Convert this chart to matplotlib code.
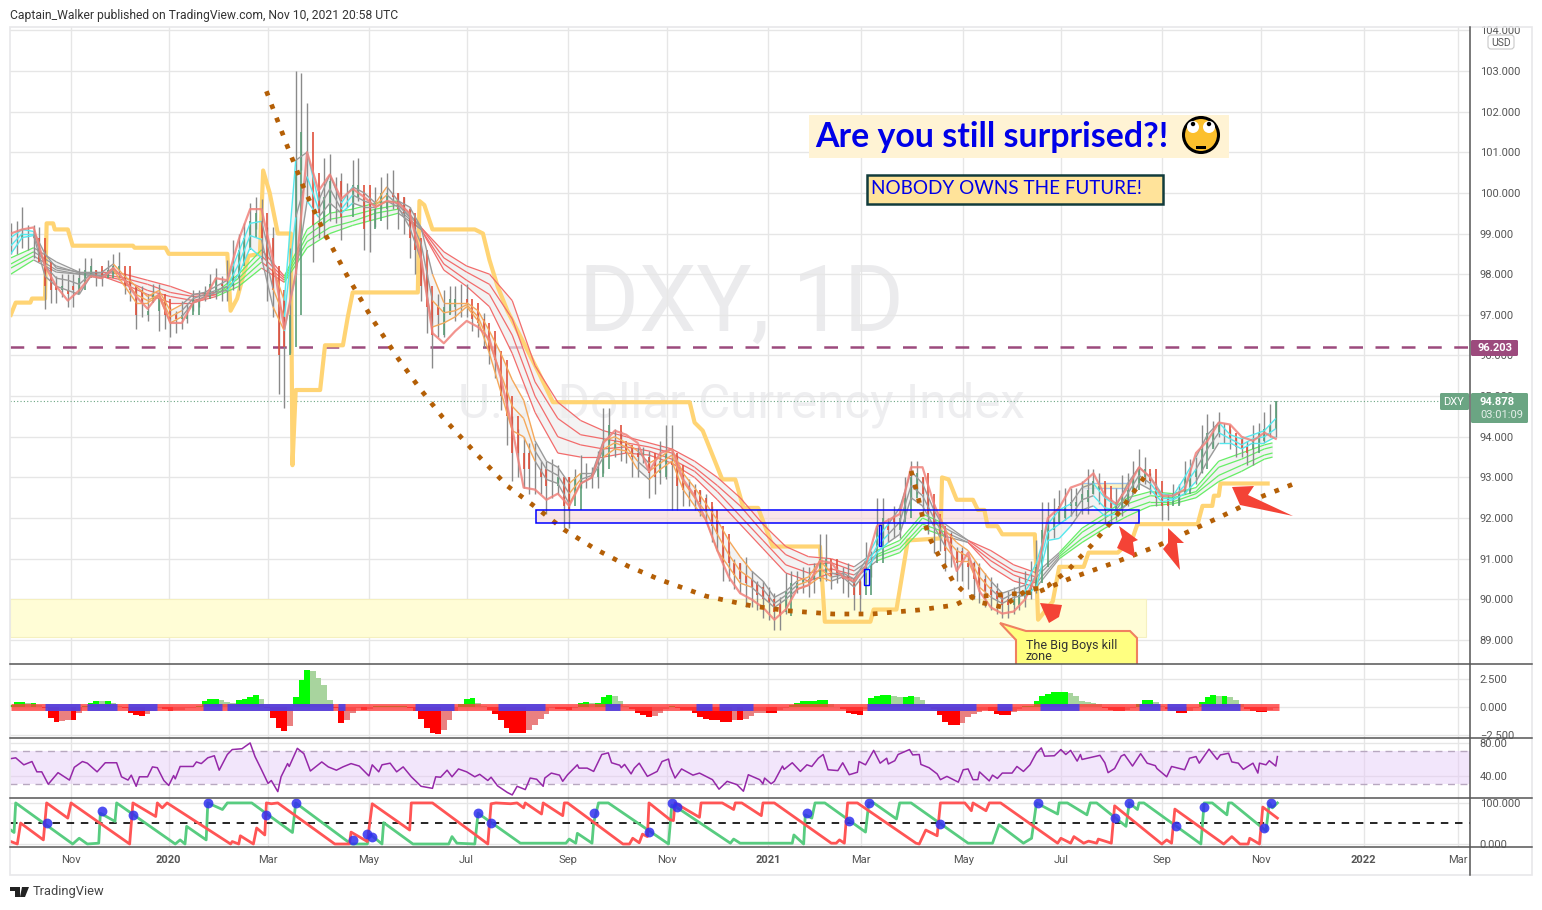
import numpy as np
import matplotlib
matplotlib.use("Agg")
import matplotlib.pyplot as plt
from matplotlib.collections import LineCollection
from matplotlib.patches import Circle, Polygon, Rectangle, FancyBboxPatch
from matplotlib.transforms import Affine2D

W, H = 1542, 910

# x axis is days since 1 Nov 2019, weekly samples start 37 days before
week_days = np.arange(112) * 7 - 37
mid_days = week_days[:-1] + 3.5
half_days = np.arange(223) * 3.5 - 37
slow_days = np.append(np.arange(56) * 14 - 37, 738)

tick_days = [0, 60, 121, 183, 243, 305, 366, 428, 485, 548, 608, 670, 731, 794, 852]
tick_names = ["Nov", "2020", "Mar", "May", "Jul", "Sep", "Nov", "2021", "Mar", "May", "Jul", "Sep", "Nov", "2022", "Mar"]

# price sticks, one set on week_days
high = [99.25, 99.65, 99.2, 98.6, 97.95, 98.0, 98.15, 98.4, 98.1, 98.5,
        98.0, 97.7, 97.5, 97.75, 97.2, 97.35, 97.6, 97.7, 98.15, 98.35,
        99.0, 99.75, 99.85, 99.15, 97.5, 103.0, 102.2, 100.05, 100.95, 100.5,
        100.8, 99.8, 100.15, 100.5, 100.0, 99.65, 98.35, 97.35, 97.6, 97.7,
        97.75, 97.05, 96.45, 95.45, 94.5, 94.0, 93.85, 93.4, 93.3, 93.0,
        93.55, 93.25, 94.7, 94.2, 93.85, 93.75, 93.65, 93.9, 94.3, 93.1,
        92.85, 92.6, 91.95, 91.2, 90.9, 90.7, 90.45, 90.15, 90.65, 90.7,
        90.8, 91.6, 90.8, 90.8, 90.55, 91.4, 92.5, 92.0, 92.35, 93.4,
        93.0, 92.35, 91.7, 91.3, 91.05, 90.9, 90.55, 90.15, 90.3, 90.7,
        91.45, 92.4, 92.7, 92.75, 92.9, 93.2, 92.85, 92.75, 93.1, 93.7,
        93.1, 92.6, 92.85, 93.4, 93.5, 94.55, 94.6, 94.2, 94.0, 94.3,
        94.6, 94.88]
low = [98.5, 98.65, 98.4, 97.15, 97.3, 97.2, 97.6, 98.0, 97.7, 98.0,
       97.5, 96.65, 96.85, 96.6, 96.45, 96.65, 97.1, 97.35, 97.4, 97.35,
       97.6, 98.65, 98.35, 96.95, 94.7, 98.0, 99.8, 98.9, 99.3, 98.85,
       99.65, 98.6, 99.15, 99.1, 99.1, 98.4, 97.35, 95.7, 96.45, 96.85,
       96.95, 96.45, 95.8, 94.65, 92.9, 92.75, 92.6, 92.1, 92.6, 91.75,
       92.75, 92.75, 93.1, 93.5, 93.35, 93.0, 92.5, 92.85, 92.2, 92.3,
       92.2, 91.95, 91.2, 90.45, 90.15, 89.8, 89.55, 89.25, 89.65, 90.15,
       90.05, 90.45, 90.25, 90.15, 89.75, 90.4, 91.3, 91.4, 91.5, 92.45,
       92.1, 91.15, 90.7, 90.45, 90.25, 89.9, 89.75, 89.55, 89.65, 89.8,
       90.15, 91.5, 91.85, 92.05, 92.1, 92.6, 91.85, 91.95, 92.3, 92.85,
       92.6, 91.95, 92.45, 92.6, 92.85, 93.7, 94.0, 93.7, 93.5, 93.3,
       93.85, 94.0]
close = [98.9, 99.0, 98.9, 97.7, 97.6, 97.5, 97.9, 98.2, 97.9, 98.2,
         97.7, 97.0, 97.1, 97.4, 96.9, 97.0, 97.4, 97.55, 97.9, 97.9,
         98.6, 99.3, 98.9, 97.6, 96.2, 100.5, 100.5, 99.5, 100.3, 99.4,
         100.2, 99.1, 99.6, 100.0, 99.6, 98.9, 97.7, 96.5, 97.2, 97.4,
         97.3, 96.8, 96.1, 95.0, 93.6, 93.2, 93.2, 92.8, 93.0, 92.2,
         93.1, 93.0, 93.7, 93.9, 93.6, 93.5, 93.1, 93.4, 93.3, 92.7,
         92.5, 92.2, 91.6, 90.9, 90.5, 90.3, 90.0, 89.7, 90.2, 90.4,
         90.5, 91.0, 90.55, 90.5, 90.1, 90.9, 91.8, 91.7, 92.0, 93.0,
         92.6, 91.8, 91.2, 90.9, 90.8, 90.3, 90.1, 89.85, 90.0, 90.2,
         90.8, 91.9, 92.3, 92.4, 92.6, 92.9, 92.2, 92.4, 92.7, 93.2,
         92.9, 92.3, 92.6, 93.0, 93.2, 94.1, 94.3, 93.95, 93.7, 93.9,
         94.2, 94.88]

# second set of sticks, on mid_days
high2 = [99.3, 99.2, 99.15, 97.95, 98.0, 98.0, 98.4, 98.1, 98.35, 98.55,
         97.85, 97.7, 97.75, 97.35, 97.1, 97.3, 97.6, 98.0, 97.95, 98.85,
         99.25, 99.9, 99.15, 97.1, 98.65, 102.95, 100.0, 100.85, 100.4, 100.25,
         100.85, 99.8, 100.4, 100.55, 99.9, 99.15, 98.0, 97.5, 97.7, 97.75,
         97.1, 97.05, 96.3, 95.1, 94.2, 93.85, 93.4, 93.45, 93.0, 93.2,
         93.35, 93.65, 94.7, 94.15, 93.75, 93.75, 93.4, 94.3, 93.5, 92.95,
         92.7, 92.3, 91.3, 91.0, 91.05, 90.45, 90.3, 90.05, 90.7, 90.8,
         90.9, 91.6, 90.8, 90.9, 90.45, 91.2, 92.5, 92.3, 93.0, 93.4,
         92.6, 92.0, 91.65, 91.3, 90.95, 90.65, 90.4, 90.2, 90.55, 90.95,
         92.4, 92.5, 92.75, 92.75, 93.2, 93.1, 92.5, 93.05, 93.4, 93.5,
         92.85, 92.6, 92.85, 93.45, 94.3, 94.4, 94.35, 94.0, 93.9, 94.35,
         94.8]
low2 = [98.5, 98.6, 98.35, 97.3, 97.45, 97.2, 97.85, 97.7, 97.95, 97.85,
        97.35, 96.95, 97.35, 96.65, 96.55, 96.8, 97.2, 97.5, 97.35, 97.6,
        98.35, 99.1, 97.35, 95.05, 96.05, 100.55, 98.3, 98.9, 99.25, 99.65,
        99.8, 98.55, 99.6, 99.6, 99.0, 98.0, 96.55, 96.45, 97.05, 96.95,
        96.6, 96.2, 95.45, 93.8, 93.0, 92.6, 92.6, 92.5, 91.75, 92.7,
        92.75, 92.75, 93.85, 93.4, 93.0, 93.35, 92.6, 92.95, 92.2, 92.3,
        92.05, 91.4, 90.45, 90.25, 89.8, 89.75, 89.5, 89.25, 90.05, 90.15,
        90.15, 90.45, 90.4, 90.05, 89.65, 90.55, 91.5, 91.5, 92.0, 92.6,
        91.6, 91.2, 90.8, 90.45, 90.0, 89.8, 89.65, 89.55, 89.75, 90.0,
        91.3, 91.5, 91.95, 92.05, 92.1, 92.35, 91.85, 92.05, 92.6, 92.85,
        92.3, 91.95, 92.35, 92.7, 93.1, 93.75, 93.85, 93.5, 93.3, 93.85,
        94.0]
close2 = [98.9, 98.9, 98.3, 97.6, 97.7, 97.6, 98.1, 97.9, 98.1, 98.2,
          97.6, 97.3, 97.5, 97.0, 96.9, 97.0, 97.4, 97.75, 97.7, 98.2,
          98.9, 99.5, 98.2, 96.0, 97.0, 101.5, 99.2, 99.9, 99.9, 99.9,
          100.2, 99.3, 100.0, 99.9, 99.5, 98.6, 97.2, 97.0, 97.4, 97.4,
          96.9, 96.6, 95.9, 94.5, 93.6, 93.2, 93.0, 93.0, 92.3, 93.0,
          93.0, 93.2, 94.3, 93.8, 93.5, 93.6, 93.0, 93.6, 92.8, 92.7,
          92.4, 91.8, 90.9, 90.6, 90.4, 90.1, 89.9, 89.6, 90.4, 90.5,
          90.6, 91.0, 90.6, 90.5, 90.1, 90.9, 92.0, 91.9, 92.5, 93.1,
          92.1, 91.6, 91.2, 90.9, 90.5, 90.2, 90.0, 89.85, 90.1, 90.4,
          91.7, 92.0, 92.3, 92.4, 92.7, 92.8, 92.2, 92.6, 93.0, 93.2,
          92.5, 92.3, 92.6, 93.1, 93.7, 94.1, 94.1, 93.75, 93.6, 94.1,
          94.3]

# fast ribbon edges and middle, state c=up o=down g=flat
fast_top = [98.9, 99.1, 99.05, 98.5, 98.15, 98.1, 98.05, 98.05, 98.05, 98.25,
            97.95, 97.7, 97.45, 97.6, 97.1, 97.25, 97.5, 97.55, 97.7, 97.85,
            98.55, 99.25, 99.3, 98.15, 97.35, 100.8, 101.0, 99.8, 100.45, 99.75,
            100.15, 100.0, 99.75, 100.15, 99.8, 99.65, 99.15, 98.0, 97.3, 97.3,
            97.3, 97.1, 96.6, 96.05, 95.4, 94.9, 93.9, 93.4, 93.25, 92.85,
            93.1, 93.1, 93.9, 94.0, 93.85, 93.65, 93.35, 93.5, 93.7, 93.1,
            92.75, 92.35, 91.95, 91.45, 91.05, 90.7, 90.45, 90.05, 90.2, 90.45,
            90.55, 90.95, 90.65, 90.65, 90.5, 90.95, 91.5, 91.85, 92.25, 93.15,
            92.85, 92.2, 91.7, 91.4, 91.2, 90.8, 90.45, 90.15, 90.25, 90.35,
            90.9, 91.85, 92.2, 92.35, 92.75, 92.85, 92.5, 92.3, 92.85, 93.25,
            93.0, 92.6, 92.55, 93.0, 93.5, 94.05, 94.35, 94.05, 93.95, 94.05,
            94.15, 94.45]
fast_mid = [98.7, 99.0, 99.0, 98.2, 97.9, 97.85, 97.75, 98.0, 97.95, 98.15,
            97.85, 97.5, 97.35, 97.5, 96.95, 97.1, 97.4, 97.5, 97.6, 97.7,
            98.25, 98.95, 98.85, 97.65, 96.95, 99.4, 100.4, 99.6, 100.1, 99.6,
            99.95, 99.8, 99.7, 99.95, 99.7, 99.4, 98.75, 97.35, 97.05, 97.1,
            97.25, 96.95, 96.3, 95.55, 94.75, 94.45, 93.65, 93.2, 93.05, 92.6,
            92.95, 93.05, 93.7, 93.85, 93.75, 93.4, 93.15, 93.35, 93.55, 92.9,
            92.5, 92.15, 91.6, 91.1, 90.7, 90.5, 90.25, 89.9, 90.1, 90.35,
            90.45, 90.75, 90.55, 90.6, 90.4, 90.8, 91.3, 91.6, 91.9, 92.8,
            92.55, 92.0, 91.5, 91.2, 91.05, 90.55, 90.25, 90.0, 90.15, 90.2,
            90.6, 91.65, 91.85, 92.05, 92.45, 92.55, 92.25, 92.2, 92.6, 93.05,
            92.85, 92.5, 92.5, 92.8, 93.2, 93.7, 94.1, 93.95, 93.8, 93.95,
            94.0, 94.2]
fast_bot = [98.5, 98.9, 98.95, 97.95, 97.7, 97.6, 97.5, 97.95, 97.9, 98.1,
            97.7, 97.3, 97.3, 97.45, 96.8, 96.95, 97.3, 97.45, 97.55, 97.6,
            98.0, 98.65, 98.4, 97.2, 96.6, 98.0, 99.8, 99.4, 99.75, 99.5,
            99.75, 99.65, 99.65, 99.8, 99.65, 99.15, 98.35, 96.7, 96.8, 96.95,
            97.2, 96.85, 96.05, 95.1, 94.15, 94.0, 93.4, 92.95, 92.85, 92.35,
            92.85, 93.0, 93.5, 93.7, 93.65, 93.2, 92.95, 93.2, 93.4, 92.7,
            92.3, 91.95, 91.2, 90.8, 90.4, 90.3, 90.05, 89.8, 90.0, 90.25,
            90.35, 90.55, 90.45, 90.55, 90.3, 90.65, 91.15, 91.4, 91.6, 92.5,
            92.3, 91.8, 91.3, 90.95, 90.95, 90.3, 90.05, 89.9, 90.05, 90.1,
            90.3, 91.45, 91.5, 91.8, 92.2, 92.3, 92.05, 92.1, 92.35, 92.85,
            92.7, 92.4, 92.45, 92.6, 92.9, 93.4, 93.85, 93.85, 93.7, 93.85,
            93.85, 94.0]
fast_state = ("cccggggggg" "oooooogggg" "cccgocgcgg" "cggoggg" "gooooooooo"
              "gggoggooog" "ooooooooogg" "ggoooggg" "cc" "gggggoooog"
              "ggccccggcc" "gggccccggc" "cc")

# thick reversal line over the price
swing = [99.0, 99.1, 99.15, 98.2, 97.7, 97.35, 97.6, 97.95, 97.9, 98.15,
         97.85, 97.45, 97.15, 97.5, 96.8, 96.8, 97.3, 97.4, 97.9, 97.85,
         98.85, 99.6, 99.6, 98.35, 96.65, 98.0, 101.0, 100.05, 100.45, 99.85,
         100.1, 99.9, 99.65, 99.8, 99.75, 99.5, 98.4, 96.55, 96.3, 96.6,
         96.85, 96.7, 96.4, 95.45, 94.2, 92.75, 92.7, 92.45, 92.6, 92.3,
         92.85, 93.0, 93.85, 94.15, 94.05, 93.85, 93.15, 93.6, 93.7, 92.95,
         92.55, 91.95, 91.2, 90.55, 90.15, 90.0, 89.8, 89.5, 89.75, 90.25,
         90.35, 90.95, 90.9, 90.55, 90.45, 90.8, 91.8, 91.95, 92.1, 93.25,
         93.25, 92.35, 91.7, 90.7, 91.15, 90.2, 89.8, 89.65, 89.7, 90.0,
         90.6, 92.0, 92.25, 92.75, 92.85, 93.1, 92.55, 92.35, 92.75, 93.25,
         93.0, 92.55, 92.55, 92.7, 93.6, 93.9, 94.35, 94.3, 94.0, 93.9,
         94.1, 93.95]

# slow ribbon, four of its lines read every two weeks
slow_a = [98.4, 98.65, 98.3, 98.05, 98.05, 98.0, 97.85, 97.7, 97.5, 97.55,
          98.0, 98.6, 97.95, 99.1, 99.5, 99.6, 99.75, 99.8, 99.15, 98.55,
          98.2, 98.0, 97.35, 95.75, 94.85, 94.4, 94.15, 94.0, 93.85, 93.7,
          93.4, 93.0, 92.5, 91.85, 91.3, 91.05, 91.0, 90.8, 91.2, 91.45,
          92.1, 91.85, 91.45, 91.2, 90.85, 90.65, 91.15, 91.75, 92.1, 92.5,
          92.65, 92.6, 92.75, 93.4, 93.6, 93.8, 93.85]
slow_b = [98.25, 98.55, 98.2, 98.03, 98.0, 97.9, 97.75, 97.55, 97.45, 97.5,
          97.9, 98.45, 97.9, 98.95, 99.35, 99.45, 99.6, 99.7, 99.15, 98.4,
          98.05, 97.75, 96.9, 95.35, 94.45, 94.05, 93.95, 93.85, 93.75, 93.6,
          93.25, 92.8, 92.3, 91.65, 91.1, 90.85, 90.9, 90.7, 91.1, 91.35,
          92.0, 91.75, 91.45, 91.05, 90.7, 90.55, 91.1, 91.65, 92.0, 92.35,
          92.55, 92.5, 92.65, 93.25, 93.45, 93.7, 93.75]
slow_c = [98.15, 98.45, 98.1, 98.0, 97.95, 97.85, 97.6, 97.45, 97.35, 97.5,
          97.8, 98.3, 97.85, 98.8, 99.15, 99.3, 99.5, 99.6, 99.1, 98.25,
          97.85, 97.5, 96.5, 95.0, 94.0, 93.8, 93.7, 93.75, 93.65, 93.45,
          93.15, 92.65, 92.05, 91.45, 90.85, 90.65, 90.75, 90.6, 91.05, 91.25,
          91.85, 91.65, 91.4, 90.95, 90.6, 90.4, 91.05, 91.5, 91.85, 92.2,
          92.4, 92.4, 92.6, 93.05, 93.3, 93.55, 93.6]
slow_d = [98.0, 98.35, 98.05, 98.0, 97.95, 97.75, 97.5, 97.3, 97.3, 97.45,
          97.7, 98.15, 97.8, 98.65, 99.0, 99.2, 99.35, 99.5, 99.1, 98.1,
          97.7, 97.2, 96.05, 94.6, 93.6, 93.5, 93.5, 93.6, 93.55, 93.35,
          93.0, 92.45, 91.85, 91.25, 90.65, 90.45, 90.65, 90.5, 90.95, 91.15,
          91.75, 91.55, 91.4, 90.8, 90.45, 90.3, 91.0, 91.4, 91.75, 92.05,
          92.3, 92.35, 92.5, 92.9, 93.15, 93.45, 93.5]
slow_state = "GGkkkrrrrrGGrGGGGGkrrrrrrrrrrrrrrrrrrrkGGGkrrrkGGGGGGGGGG"

# stepped yellow line
trail_days = [-37, -34, -25, -24, -16, -15, -11, -10, -2, 1, 38, 39, 58, 60, 96, 98, 102, 109, 116, 118,
              122, 127, 135, 136, 138, 153, 156, 167, 170, 173, 213, 214, 217, 222, 248, 253, 257, 262, 268, 287,
              296, 380, 383, 388, 400, 408, 413, 422, 431, 460, 463, 491, 493, 507, 514, 534, 535, 539, 544, 554,
              557, 561, 563, 569, 572, 592, 594, 603, 607, 622, 625, 643, 652, 655, 692, 695, 701, 702, 705, 706, 735]
trail_vals = [97.0, 97.3, 97.3, 97.4, 97.4, 99.25, 99.25, 99.1, 99.1, 98.7, 98.7, 98.65, 98.65, 98.5, 98.5, 97.1, 97.4, 98.45, 98.5, 100.55,
              100.0, 99.0, 99.0, 93.3, 95.15, 95.15, 96.25, 96.25, 96.95, 97.55, 97.55, 99.8, 99.7, 99.1, 99.1, 99.0, 98.35, 97.7, 97.1, 95.6,
              94.85, 94.85, 94.35, 94.15, 92.95, 92.95, 92.25, 92.25, 91.3, 91.3, 89.45, 89.45, 89.75, 89.75, 91.45, 91.5, 93.0, 92.95, 92.45, 92.45,
              92.2, 92.2, 91.8, 91.8, 91.6, 91.6, 89.5, 89.95, 90.8, 90.8, 91.15, 91.15, 91.5, 91.85, 91.85, 92.3, 92.3, 92.55, 92.55, 92.85, 92.85]

# brown dotted arcs
arc1_days = [120, 133, 144, 156, 170, 185, 201, 214, 228, 248, 268, 286, 303, 322, 342, 362, 390, 418, 440, 468, 492, 521, 543, 553, 594, 614, 640, 667, 686, 706, 732, 751]
arc1_vals = [102.5, 101.13, 100.02, 98.99, 97.93, 96.9, 95.92, 95.2, 94.49, 93.62, 92.79, 92.25, 91.71, 91.24, 90.82, 90.48, 90.08, 89.84, 89.72, 89.64, 89.64, 89.74, 89.86, 90.06, 90.18, 90.52, 90.89, 91.31, 91.66, 92.03, 92.54, 92.84]
arc2_days = [516, 520, 523, 528, 535, 542, 548, 558, 572, 586, 600, 612, 627, 641, 654, 662]
arc2_vals = [93.16, 92.57, 92.03, 91.46, 90.92, 90.43, 90.2, 89.93, 89.81, 90.2, 90.33, 90.7, 91.34, 92.0, 92.71, 93.16]

# momentum histogram on half_days and squeeze runs
momentum = [0.15, 0.45, 0.45, 0.35, 0.4, 0.2, -0.1, -1.0, -1.35, -1.25,
            -1.15, -1.15, -0.55, 0.05, 0.4, 0.55, 0.5, 0.55, 0.4, 0.1,
            -0.1, -0.55, -0.7, -0.8, -0.65, -0.35, -0.1, -0.2, -0.35, -0.3,
            -0.25, -0.1, -0.05, 0.1, 0.5, 0.7, 0.7, 0.65, 0.45, 0.35,
            0.65, 0.7, 0.85, 1.05, 0.7, -0.1, -1.0, -1.9, -2.15, -1.7,
            0.9, 2.4, 3.3, 3.2, 2.6, 2.0, 0.6, -0.1, -1.4, -1.2,
            -0.5, -0.1, -0.25, -0.2, 0.1, 0.1, 0.1, 0.1, 0.1, 0.1,
            -0.05, -0.4, -1.1, -1.9, -2.35, -2.4, -2.1, -1.2, -0.4, 0.25,
            0.7, 0.8, 0.4, 0.1, -0.3, -0.6, -1.2, -1.9, -2.3, -2.35,
            -2.35, -2.1, -1.6, -1.1, -0.6, -0.05, -0.2, -0.2, -0.25, -0.05,
            0.35, 0.45, 0.35, 0.4, 0.85, 1.1, 0.95, 0.55, 0.1, -0.2,
            -0.55, -0.7, -0.9, -0.8, -0.55, -0.2, 0.1, -0.1, -0.25, -0.3,
            -0.5, -0.9, -1.1, -1.15, -1.15, -1.3, -1.3, -1.15, -1.2, -1.1,
            -0.8, -0.55, -0.5, -0.5, -0.5, -0.3, -0.05, 0.2, 0.4, 0.5,
            0.55, 0.55, 0.6, 0.6, 0.3, 0.0, -0.2, -0.5, -0.65, -0.75,
            -0.2, 0.8, 0.95, 1.05, 1.05, 1.0, 0.9, 0.9, 1.0, 0.9,
            0.6, 0.2, -0.15, -0.7, -1.3, -1.6, -1.65, -1.45, -0.85, -0.65,
            -0.45, -0.3, -0.4, -0.6, -0.7, -0.7, -0.45, -0.2, 0.05, 0.1,
            0.5, 0.95, 1.2, 1.3, 1.3, 1.35, 1.25, 0.95, 0.5, 0.45,
            0.4, 0.25, -0.1, -0.3, -0.4, -0.4, -0.3, -0.1, 0.3, 0.6,
            0.65, 0.45, 0.1, -0.2, -0.4, -0.5, -0.5, -0.35, -0.05, 0.45,
            0.9, 1.05, 1.0, 1.0, 0.9, 0.65, 0.3, -0.2, -0.4, -0.45,
            -0.45, -0.3, -0.1]
squeeze_start = [-16, 10, 35, 81, 96, 164, 211, 262, 328, 384, 398, 489, 569, 595, 656, 673, 694]
squeeze_end = [5.5, 28, 53, 93, 161, 168, 235, 291, 337, 394, 419, 556, 578, 619, 669, 685, 718]

# rsi vertices
rsi_days = [-37, -34, -29, -24, -21, -18, -14, -8, -1, 2, 7, 10, 16, 21, 28, 31, 35, 37, 40, 42,
            47, 50, 53, 57, 60, 63, 64, 67, 75, 77, 80, 84, 88, 91, 96, 99, 105, 110, 113, 117,
            121, 123, 127, 129, 133, 134, 139, 143, 147, 154, 158, 163, 167, 172, 177, 183, 185, 189, 191, 196,
            200, 204, 209, 215, 222, 224, 227, 231, 234, 238, 243, 248, 251, 256, 258, 262, 268, 271, 274, 279,
            282, 286, 290, 291, 295, 300, 302, 305, 311, 312, 317, 321, 326, 330, 332, 337, 338, 340, 344, 346,
            349, 354, 360, 363, 367, 368, 371, 375, 382, 386, 394, 398, 403, 409, 413, 416, 423, 425, 426, 430,
            432, 437, 438, 443, 448, 452, 455, 459, 462, 465, 471, 474, 478, 483, 484, 488, 493, 497, 501, 502,
            506, 508, 515, 517, 521, 522, 527, 532, 534, 538, 545, 548, 551, 554, 557, 558, 564, 566, 569, 572,
            578, 581, 585, 589, 593, 596, 598, 604, 608, 611, 614, 618, 620, 621, 632, 635, 637, 641, 645, 647,
            652, 657, 661, 666, 667, 673, 676, 684, 687, 691, 693, 699, 704, 706, 711, 713, 717, 720, 726, 729,
            730, 734, 736, 740, 741]
rsi_vals = [61, 62, 53.5, 57.5, 45, 45, 30, 44, 35, 50.5, 57.5, 55.5, 45, 56, 56, 39, 35, 41, 27.5, 39,
            39, 51, 50, 34.5, 28.5, 40.5, 36.5, 51.5, 51.5, 57, 55, 62, 64.5, 47, 66, 72, 73, 80, 63.5, 47.5,
            31, 34.5, 21, 39, 55, 51.5, 73.5, 67, 46, 57, 51, 47, 51, 55, 52, 40, 53.5, 45, 53.5, 55.5,
            45, 51, 39, 27.5, 25, 39, 38.5, 47, 39, 48.5, 45, 39, 42, 34.5, 38.5, 28, 20, 17, 27.5, 23.5,
            37.5, 36, 27.5, 37.5, 43.5, 41, 33.5, 41.5, 53.5, 49.5, 49.5, 45.5, 66, 68, 56, 53, 50, 54, 42.5, 49.5,
            55.5, 39.5, 45.5, 57.5, 60.5, 51.5, 37.5, 48.5, 41, 43.5, 35.5, 24, 33.5, 29.5, 21.5, 41.5, 35.5, 30.5, 37.5, 30.5,
            33.5, 52, 48, 56, 45.5, 53.5, 51.5, 61.5, 66, 47.5, 46.5, 56, 41.5, 44.5, 57.5, 53.5, 71, 55.5, 61.5, 54.5,
            58.5, 66, 72, 65.5, 66, 54, 50, 42.5, 35.5, 39.5, 32.5, 47.5, 48.5, 35.5, 35.5, 45, 34, 41, 37, 43.5,
            43.5, 51.5, 45.5, 53.5, 68, 74, 64, 64.5, 72, 66, 71, 58, 66, 60, 65, 56, 44, 49, 64, 66,
            52, 67, 55.5, 52.5, 49, 39, 51.5, 47.5, 61.5, 63.5, 55.5, 72.5, 60, 65.5, 67.5, 57, 55.5, 48, 55.5, 43.5,
            55.5, 53.5, 58.5, 52, 63.5]

# stochastic pair
green_days = [-37, -35, -34, 1, 5, 10, 17, 18, 27, 28, 64, 67, 70, 71, 83, 84, 93, 96, 111, 136, 138, 172, 182, 183, 191, 192, 210, 232, 234, 237, 248, 250,
              276, 304, 306, 310, 311, 320, 321, 324, 330, 367, 369, 371, 405, 407, 411, 443, 444, 450, 451, 455, 457,
              463, 488, 490, 493, 507, 509, 516, 551, 566, 570, 585, 590, 593, 606, 607, 612, 624, 626, 630, 648, 650, 655, 656, 659, 694, 696, 701, 710, 711, 713, 734, 736, 738, 741]
green_vals = [34, 28, 100, 0, 14, 0, 2, 75, 55, 100, 0, 10, 0, 43, 10, 100, 84, 100, 100, 28, 100, 0, 0, 26, 0, 52, 0, 0, 18, 2, 0, 75,
              2, 2, 12, 2, 26, 2, 51, 100, 100, 0, 94, 92, 2, 12, 2, 2, 22, 0, 71, 63, 100,
              100, 29, 100, 100, 61, 100, 100, 2, 2, 47, 2, 14, 100, 73, 100, 100, 71, 100, 100, 43, 100, 84, 100, 100, 0, 100, 100, 71, 100, 100, 32, 100, 88, 100]
red_days = [-37, -33, -31, -17, -15, -2, 0, 36, 38, 52, 53, 56, 59, 98, 99, 103, 104, 112, 114, 119, 120, 123, 127, 162, 171, 172, 182, 185, 208, 209, 222, 256, 258, 261, 270,
            274, 278, 279, 289, 290, 302, 303, 305, 339, 343, 345, 349, 351, 354, 355, 368, 370, 371, 386, 387, 400, 407, 408, 412, 424, 425, 432,
            467, 470, 472, 475, 477, 483, 519, 521, 525, 532, 534, 538, 549, 553, 554, 562, 564, 571, 606, 608, 614, 616, 622, 625, 630, 631, 639, 641, 670, 673, 676, 678, 708, 713, 718, 723, 724, 730, 732, 741]
red_vals = [6, 0, 51, 10, 100, 63, 100, 0, 100, 67, 100, 88, 100, 0, 6, 0, 20, 0, 39, 22, 100, 98, 100, 0, 0, 29, 6, 98, 34, 100, 100, 0, 98, 100, 98,
            100, 88, 100, 73, 100, 69, 100, 100, 0, 0, 14, 3, 24, 18, 100, 59, 57, 100, 65, 100, 100, 84, 100, 100, 69, 100, 100,
            2, 2, 10, 2, 100, 100, 2, 0, 34, 20, 100, 100, 100, 81, 100, 81, 100, 100, 2, 14, 2, 18, 2, 7, 2, 12, 2, 93, 0, 10, 2, 85, 0, 18, 0, 0, 14, 0, 90, 63]
dot_days = [-15, 19, 38, 84, 120, 138, 173, 182, 185, 250, 258, 321, 355, 369, 372, 452, 478, 490, 534, 594, 641, 650, 679, 696, 733, 737]
dot_vals = [51, 80, 71, 100, 71, 100, 9, 24, 16, 75, 51, 75, 29, 100, 90, 75, 56, 100, 49, 100, 63, 100, 43, 90, 39, 100]

plt.rcParams["font.family"] = ["Roboto", "DejaVu Sans"]
fig = plt.figure(figsize=(W / 100, H / 100), dpi=100, facecolor="white")
to_px = Affine2D().scale(1, -1).translate(0, H)


def panel(top, bottom, ymin, ymax, ticks, labels):
    ax = fig.add_axes([10 / W, 1 - bottom / H, 1460 / W, (bottom - top) / H])
    ax.set_xlim(-37.5, 859.3)
    ax.set_ylim(ymin, ymax)
    for s in ax.spines.values():
        s.set_visible(False)
    ax.set_xticks(tick_days)
    ax.set_yticks(ticks)
    ax.set_yticklabels(labels, fontsize=8, color="#555555")
    ax.yaxis.tick_right()
    ax.tick_params(length=0, labelbottom=False)
    ax.tick_params(axis="y", pad=7)
    ax.grid(color="#e6e6e6", lw=1)
    ax.set_axisbelow(True)
    return ax


def state_line(ax, x, y, states, colours, lw, z=3):
    pts = np.column_stack([x, y])
    segs = np.stack([pts[:-1], pts[1:]], axis=1)
    cols = [colours[s] for s in states[1:]]
    ax.add_collection(LineCollection(segs, colors=cols, linewidths=lw, zorder=z))


price_ticks = list(range(89, 105))
price_labels = ["%.3f" % t for t in price_ticks]
ax1 = panel(27, 664, 88.41, 104.08, price_ticks, price_labels)
ax2 = panel(664, 738, -2.77, 3.84, [-2.5, 0, 2.5], ["\u22122.500", "0.000", "2.500"])
ax3 = panel(738, 798, 13.3, 86, [40, 80], ["40.00", "80.00"])
ax4 = panel(798, 847, -7.3, 112, [0, 100], ["0.000", "100.000"])

# watermark under everything
ax1.text(741, 305, "DXY, 1D", transform=to_px, ha="center", va="center", fontsize=66, color="#ebebed", zorder=0.5)
ax1.text(741, 405, "U.S. Dollar Currency Index", transform=to_px, ha="center", va="center", fontsize=35.6, color="#eeeef0", zorder=0.5)

# zones
ax1.add_patch(Rectangle((-37.5, 89.07), 697.5, 0.93, fc="#fffdd6", ec="#f5f0c0", lw=0.8, zorder=1))
ax1.add_patch(Rectangle((285.5, 91.88), 370.5, 0.32, fc="#f7d6da", alpha=0.6, ec="none", zorder=1))
ax1.add_patch(Rectangle((285.5, 91.88), 370.5, 0.32, fc="none", ec="#0000ff", lw=1.1, zorder=6))
ax1.add_patch(Rectangle((621, 92.73), 29, 0.14, fc="#fff3c0", ec="#9cc4f0", lw=1, zorder=1.5))
ax1.add_patch(Rectangle((487, 90.35), 3, 0.4, fc="none", ec="#0000ff", lw=1, zorder=6))
ax1.add_patch(Rectangle((496, 91.32), 1.5, 0.52, fc="none", ec="#0000ff", lw=1, zorder=6))

ax1.axhline(96.203, color="#9c4a7d", lw=1.8, ls=(0, (5.5, 5)), zorder=2)
ax1.axhline(94.878, color="#6ba583", lw=0.8, ls=(0, (1, 2)), zorder=2)

# ribbons
ax1.fill_between(week_days, fast_bot, fast_top, color="#eeeeee", alpha=0.7, lw=0, zorder=2)
ax1.fill_between(slow_days, slow_d, slow_a, color="#eeeeee", alpha=0.7, lw=0, zorder=2)
ax1.plot(trail_days, trail_vals, color="#ffd474", lw=3, zorder=2.5, solid_joinstyle="round")

fast_cols = {"c": "#55e8ee", "o": "#f5a85a", "g": "#9a9a9a"}
for line in (fast_top, fast_mid, fast_bot):
    state_line(ax1, week_days, line, fast_state, fast_cols, 1.0, z=4.3)
slow_cols = {"G": "#66ee66", "r": "#f26c6c", "k": "#9a9a9a"}
for line in (slow_a, slow_b, slow_c, slow_d):
    state_line(ax1, slow_days, line, slow_state, slow_cols, 0.9)

# sticks, body runs from last close to this close
for days, hi, lo, cl in ((week_days, high, low, close), (mid_days, high2, low2, close2)):
    prev = np.array([cl[0]] + cl[:-1])
    body_cols = ["#e0503c" if c < p else "#5c9e78" for c, p in zip(cl, prev)]
    ax1.vlines(days, lo, hi, color="#8a8a8a", lw=1.0, zorder=4)
    ax1.vlines(days, prev, cl, colors=body_cols, lw=1.2, zorder=4.2)
ax1.plot(week_days, swing, color="#f0827c", lw=1.6, alpha=0.85, zorder=4.5, solid_joinstyle="round")

dot_style = dict(color="#b45f06", lw=3.4, ls=(0, (1, 2.0)), zorder=5)
ax1.plot(arc1_days, arc1_vals, **dot_style)
ax1.plot(arc2_days, arc2_vals, **dot_style)

# momentum panel
mom = np.array(momentum)
change = np.diff(np.append(mom[0], mom))
hist_cols = []
for v, d in zip(mom, change):
    if v >= 0:
        hist_cols.append("#00ff00" if d >= 0 else "#a8d49e")
    else:
        hist_cols.append("#ff0000" if d <= 0 else "#ea8080")
ax2.bar(half_days, mom, width=3.5, color=hist_cols, lw=0, zorder=2)
ax2.hlines(0, half_days[0], half_days[-1] + 2, color="#ff3c3c", lw=5, alpha=0.8, zorder=3)
ax2.hlines([0] * len(squeeze_start), squeeze_start, squeeze_end, color="#4040f0", lw=5, alpha=0.85, zorder=4)

# rsi panel
ax3.axhspan(30, 70, fc="#e4c8f7", alpha=0.45, lw=0, zorder=1)
for lev in (30, 70):
    ax3.axhline(lev, color="#b8a8c0", lw=1, ls=(0, (5, 4)), zorder=2)
ax3.plot(rsi_days, rsi_vals, color="#9528a8", lw=1.1, zorder=3)

# stochastic panel
ax4.axhline(50, color="black", lw=1.2, ls=(0, (4.5, 4)), zorder=2)
ax4.plot(green_days, green_vals, color="#58cc80", lw=2, zorder=3)
ax4.plot(red_days, red_vals, color="#ff5555", lw=2, zorder=3.2)
ax4.scatter(dot_days, dot_vals, s=50, color="#3030f0", alpha=0.85, lw=0, zorder=4, clip_on=False)

# time axis
ax4.tick_params(labelbottom=True)
ax4.tick_params(axis="x", pad=6)
ax4.set_xticklabels(tick_names, fontsize=8, color="#555555")
for lab, name in zip(ax4.get_xticklabels(), tick_names):
    if name.startswith("20"):
        lab.set_fontweight("bold")

# frame and separators, pixel positions of the TradingView layout
frame = Rectangle((10, 27), 1522, 848, fc="none", ec="#e8e8ea", lw=1.2, transform=to_px)
fig.add_artist(frame)
for y in (664, 738, 798, 847):
    fig.add_artist(plt.Line2D([10, 1532], [y, y], color="#555555", lw=1.1, transform=to_px))
fig.add_artist(plt.Line2D([1470, 1470], [27, 875], color="#555555", lw=1.1, transform=to_px))


# price tags
def tag(x0, y0, x1, y1, colour):
    fig.add_artist(FancyBboxPatch((x0, y0), x1 - x0, y1 - y0, boxstyle="round,pad=0,rounding_size=1.5",
                                  fc=colour, ec="none", transform=to_px))


tag(1471, 340, 1518, 356, "#9c4a7d")
fig.text(1494.5, 348, "96.203", transform=to_px, ha="center", va="center", color="white", fontsize=8, fontweight="bold")
tag(1440, 393, 1469, 410, "#6ba583")
fig.text(1453.5, 402, "DXY", transform=to_px, ha="center", va="center", color="white", fontsize=8)
tag(1471, 393, 1528, 423, "#6ba583")
fig.text(1480, 402, "94.878", transform=to_px, ha="left", va="center", color="white", fontsize=8, fontweight="bold")
fig.text(1480, 415, "03:01:09", transform=to_px, ha="left", va="center", color="#e6f0ea", fontsize=8)
fig.add_artist(FancyBboxPatch((1488, 35), 26, 14, boxstyle="round,pad=0,rounding_size=3", fc="white", ec="#c8c8c8", lw=0.8, transform=to_px))
fig.text(1501, 42.5, "USD", transform=to_px, ha="center", va="center", color="#555555", fontsize=7.5)

# header and logo
fig.text(10, 15, "Captain_Walker published on TradingView.com, Nov 10, 2021 20:58 UTC",
         transform=to_px, ha="left", va="center", fontsize=8.7, color="#333333")
fig.text(33, 892, "TradingView", transform=to_px, ha="left", va="center", fontsize=9.3, color="#444444")
for pts in ([(10, 887), (20, 887), (20, 897), (15, 897), (15, 891), (10, 891)],
            [(22, 887), (29, 887), (25, 897), (20, 897)]):
    fig.add_artist(Polygon(pts, fc="#222222", ec="none", transform=to_px))

# text notes
fig.add_artist(Rectangle((809, 115), 420, 43, fc="#fff3d4", ec="none", transform=to_px))
fig.text(815, 137, "Are you still surprised?!", transform=to_px, ha="left", va="center",
         fontsize=24.4, fontweight="bold", color="#0000e8", family=["Lato", "DejaVu Sans"])
fig.add_artist(Circle((1201, 135), 17.5, fc="#fcc02d", ec="black", lw=2.2, transform=to_px))
for ex in (1193, 1209):
    fig.add_artist(Circle((ex, 127), 6, fc="white", ec="none", transform=to_px))
    fig.add_artist(Circle((ex, 124), 2.2, fc="black", ec="none", transform=to_px))
fig.add_artist(Rectangle((1196, 146), 10, 2.5, fc="black", ec="none", transform=to_px))

fig.add_artist(Rectangle((867, 175), 296, 29, fc="#ffe39a", ec="#123c3c", lw=1.8, transform=to_px))
fig.text(871, 189, "NOBODY OWNS THE FUTURE!", transform=to_px, ha="left", va="center",
         fontsize=13.6, color="#0000e8", family=["Lato", "DejaVu Sans"])

# red arrows and the callout sit in pixel space
arrows = [[(1040, 603), (1062, 605), (1059, 617), (1049, 623), (1043, 610)],
          [(1119, 526), (1138, 540), (1133, 542), (1135, 557), (1117, 548), (1122, 537)],
          [(1168, 528), (1184, 543), (1177, 543), (1180, 570), (1163, 549), (1168, 543)],
          [(1232, 487), (1254, 486), (1248, 495), (1293, 516), (1240, 505)]]
for pts in arrows:
    ax1.add_patch(Polygon(pts, fc="#f44336", ec="none", transform=to_px, zorder=7))

call = Polygon([(1000, 623), (1026, 631), (1130, 631), (1137, 638), (1137, 672), (1016, 672), (1016, 640)],
               fc="#ffff80", ec="#f08060", lw=1.5, transform=to_px, zorder=7)
ax1.add_patch(call)
ax1.text(1026, 646, "The Big Boys kill", transform=to_px, ha="left", va="center", fontsize=9, color="#333333", zorder=8)
ax1.text(1026, 657, "zone", transform=to_px, ha="left", va="center", fontsize=9, color="#333333", zorder=8)

fig.savefig("out.png", dpi=100)
